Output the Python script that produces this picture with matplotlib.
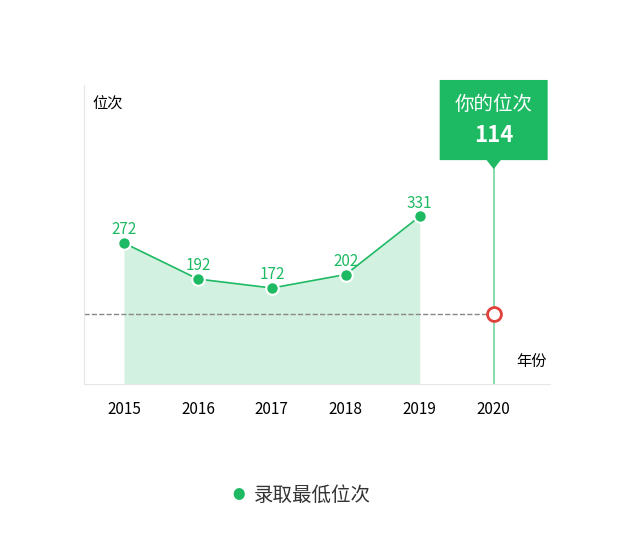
import matplotlib
matplotlib.use("Agg")
import matplotlib.pyplot as plt
from matplotlib.patches import FancyBboxPatch, Polygon

plt.rcParams['font.family'] = ['Noto Sans CJK SC', 'DejaVu Sans']

years = ['2015', '2016', '2017', '2018', '2019', '2020']
ranks = [272, 192, 172, 202, 331]
my_rank = 114
green = '#1dba63'

fig = plt.figure(figsize=(6.27, 5.34), dpi=100)
ax = fig.add_axes([0.134, 0.281, 0.743, 0.56])
xs = list(range(len(ranks)))
ax.fill_between(xs, ranks, -41, color='#d3f1e0', lw=0)
ax.plot(xs, ranks, color=green, lw=1.2, marker='o', ms=9,
        mfc=green, mec='white', mew=1.5, zorder=3)
for x, v in zip(xs, ranks):
    ax.text(x, v + 29, str(v), color=green, ha='center', va='center', fontsize=11)

x20 = len(years) - 1
ax.plot([-0.54, x20], [my_rank, my_rank], ls='--', color='#888888', lw=1)
ax.plot([x20, x20], [-41, 440], color='#7fd9a4', lw=1.3, zorder=2)
ax.plot([x20], [my_rank], marker='o', ms=10, mfc='white', mec='#e0413a', mew=2, zorder=4)

# tooltip
box = FancyBboxPatch((x20 - 0.73, 456), 1.46, 178, boxstyle='round,pad=0,rounding_size=0.04',
                     fc=green, ec='none', zorder=5, clip_on=False)
ax.add_patch(box)
ax.add_patch(Polygon([[x20 - 0.1, 457], [x20 + 0.1, 457], [x20, 436]], closed=True,
                     fc=green, ec='none', zorder=5, clip_on=False))
ax.text(x20, 580, '你的位次', color='white', ha='center', va='center', fontsize=14, zorder=6)
ax.text(x20, 511, str(my_rank), color='white', ha='center', va='center', fontsize=16,
        fontweight='bold', zorder=6)

ax.set_xlim(-0.54, 5.76)
ax.set_ylim(-41, 623)
ax.set_xticks(range(len(years)))
ax.set_xticklabels(years, fontsize=11)
ax.set_yticks([])
ax.tick_params(axis='x', length=0, pad=12)
for s in ['top', 'right']:
    ax.spines[s].set_visible(False)
for s in ['left', 'bottom']:
    ax.spines[s].set_color('#e6e6e6')
ax.text(-0.42, 600, '位次', fontsize=11, va='top')
ax.text(5.3, -10, '年份', fontsize=11, va='bottom')

fig.text(0.38, 0.072, '●', color=green, fontsize=9, ha='center', va='center')
fig.text(0.405, 0.072, '录取最低位次', color='#333333', fontsize=14, ha='left', va='center')

fig.savefig('out.png', dpi=100)
